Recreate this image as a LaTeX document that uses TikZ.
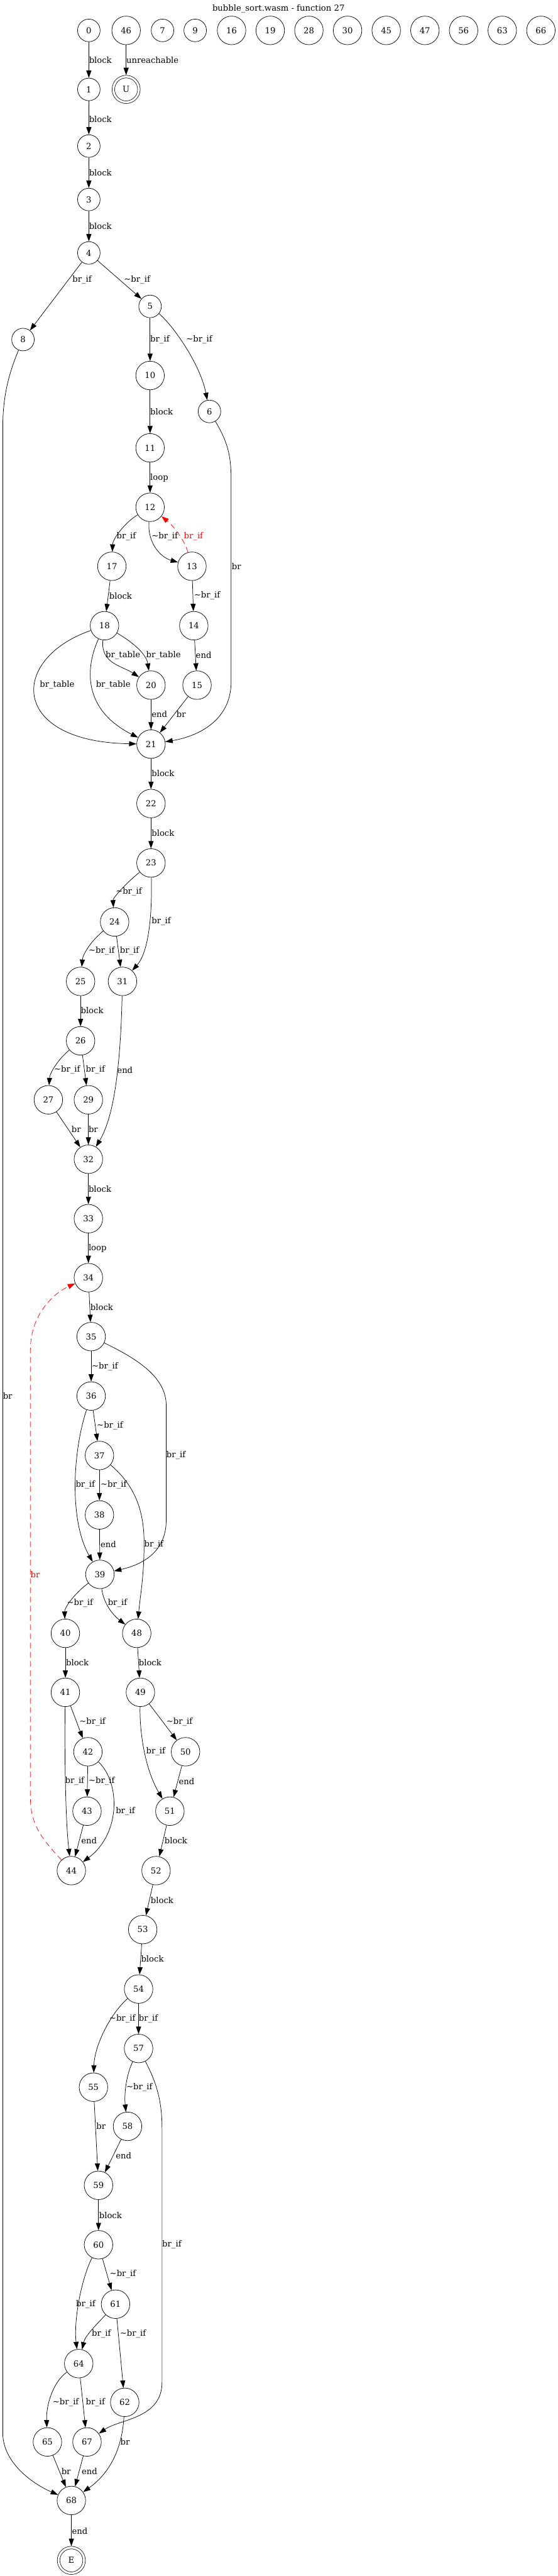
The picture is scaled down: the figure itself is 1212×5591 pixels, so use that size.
\documentclass[tikz,border=0pt]{standalone}
\usepackage{fontspec}
\newfontfamily\gvfont{DejaVu Serif}
\usetikzlibrary{arrows.meta}
\newcommand\gvbrif{br\_if}
\newcommand\gvnbrif{\textasciitilde br\_if}
\newcommand\gvbrtab{br\_table}

\begin{document}
\begin{tikzpicture}[x=0.5pt, y=-0.5pt,
  bb/.style={circle, draw, line width=0.5pt, minimum size=24.5pt, inner sep=0pt,
             font=\gvfont\fontsize{9}{11}\selectfont},
  wide/.style={minimum size=31pt},
  fin/.style={bb, double, double distance=2.25pt, minimum size=27.75pt, outer sep=1.6pt},
  edge/.style={line width=0.5pt, -{Triangle[length=8pt,width=5.5pt]}},
  back/.style={edge, red, dash pattern=on 6pt off 4pt},
  lbl/.style={anchor=west, inner sep=0pt, font=\gvfont\fontsize{9}{11}\selectfont}]
  \path[use as bounding box, fill=white] (0,0) rectangle (1212,5591);
  \node[lbl, anchor=center] (title) at (605,19) {bubble\_sort.wasm - function 27};

  % blocks
  \node[bb] (n0) at (193,66) {0};
  \node[bb,wide] (n46) at (274,66) {46};
  \foreach \k/\x in {7/353,9/424}
    \node[bb] (n\k) at (\x,66) {\k};
  \foreach \k/\x in {16/503,19/587,28/671,30/755,45/839,47/923,56/1007,63/1091,66/1175}
    \node[bb,wide] (n\k) at (\x,66) {\k};
  \node[bb] (n1) at (193,194) {1};
  \node[fin] (nU) at (274,194) {U};
  \node[bb] (n2) at (193,317) {2};
  \node[bb] (n3) at (193,433) {3};
  \node[bb] (n4) at (193,549) {4};
  \node[bb] (n5) at (326,665) {5};
  \node[bb] (n8) at (50,737) {8};
  \node[bb,wide] (n10) at (326,815) {10};
  \node[bb] (n6) at (455,893) {6};
  \node[bb,wide] (n11) at (326,972) {11};
  \node[bb,wide] (n12) at (326,1101) {12};
  \node[bb,wide] (n17) at (243,1229) {17};
  \node[bb,wide] (n13) at (417,1229) {13};
  \node[bb,wide] (n18) at (227,1358) {18};
  \node[bb,wide] (n14) at (421,1358) {14};
  \node[bb,wide] (n20) at (328,1487) {20};
  \node[bb,wide] (n15) at (428,1487) {15};
  \node[bb,wide] (n21) at (328,1615) {21};
  \node[bb,wide] (n22) at (328,1744) {22};
  \node[bb,wide] (n23) at (328,1873) {23};
  \node[bb,wide] (n24) at (249,2001) {24};
  \node[bb,wide] (n25) at (175,2130) {25};
  \node[bb,wide] (n31) at (266,2130) {31};
  \node[bb,wide] (n26) at (175,2259) {26};
  \node[bb,wide] (n27) at (105,2387) {27};
  \node[bb,wide] (n29) at (192,2387) {29};
  \node[bb,wide] (n32) at (192,2516) {32};
  \node[bb,wide] (n33) at (192,2645) {33};
  \node[bb,wide] (n34) at (192,2773) {34};
  \node[bb,wide] (n35) at (198,2901) {35};
  \node[bb,wide] (n36) at (198,3030) {36};
  \node[bb,wide] (n37) at (216,3159) {37};
  \node[bb,wide] (n38) at (216,3288) {38};
  \node[bb,wide] (n39) at (217,3417) {39};
  \node[bb,wide] (n40) at (142,3545) {40};
  \node[bb,wide] (n48) at (297,3545) {48};
  \node[bb,wide] (n41) at (142,3673) {41};
  \node[bb,wide] (n49) at (305,3673) {49};
  \node[bb,wide] (n42) at (191,3802) {42};
  \node[bb,wide] (n50) at (403,3802) {50};
  \node[bb,wide] (n43) at (189,3931) {43};
  \node[bb,wide] (n51) at (369,3931) {51};
  \node[bb,wide] (n44) at (155,4060) {44};
  \node[bb,wide] (n52) at (339,4060) {52};
  \node[bb,wide] (n53) at (310,4188) {53};
  \node[bb,wide] (n54) at (301,4317) {54};
  \node[bb,wide] (n57) at (301,4446) {57};
  \node[bb,wide] (n55) at (203,4530) {55};
  \node[bb,wide] (n58) at (277,4615) {58};
  \node[bb,wide] (n59) at (214,4743) {59};
  \node[bb,wide] (n60) at (214,4872) {60};
  \node[bb,wide] (n61) at (251,5001) {61};
  \node[bb,wide] (n64) at (171,5130) {64};
  \node[bb,wide] (n62) at (271,5214) {62};
  \node[bb,wide] (n65) at (103,5300) {65};
  \node[bb,wide] (n67) at (189,5300) {67};
  \node[bb,wide] (n68) at (155,5427) {68};
  \node[fin] (nE) at (155,5557) {E};

  % top part
  \draw[edge] (n0) -- (n1) node[lbl] at (193,130) {block};
  \draw[edge] (n46) -- (nU) node[lbl] at (274,130) {unreachable};
  \draw[edge] (n1) -- (n2) node[lbl] at (193,259) {block};
  \draw[edge] (n2) -- (n3) node[lbl] at (193,375) {block};
  \draw[edge] (n3) -- (n4) node[lbl] at (193,491) {block};
  \draw[edge] (n4) -- (n8) node[lbl] at (157,607) {\gvbrif};
  \draw[edge] (n4) -- (n5) node[lbl] at (269,607) {\gvnbrif};
  \draw[edge] (n5) -- (n10) node[lbl] at (326,737) {\gvbrif};
  \draw[edge] (n5) .. controls (375,705) and (435,790) .. (n6) node[lbl] at (404,737) {\gvnbrif};
  \draw[edge] (n10) -- (n11) node[lbl] at (326,893) {block};
  \draw[edge] (n11) -- (n12) node[lbl] at (326,1037) {loop};
  \draw[edge] (n8) .. controls (15,820) and (6,870) .. (6,930) -- (6,5280)
    .. controls (6,5350) and (80,5395) .. (n68) node[lbl] at (6,3030) {br};
  \draw[edge] (n6) .. controls (495,960) and (502,990) .. (502,1040) -- (502,1480)
    .. controls (502,1570) and (420,1600) .. (n21) node[lbl] at (503,1229) {br};

  % first loop
  \draw[edge] (n12) .. controls (270,1135) and (245,1170) .. (n17) node[lbl] at (253,1165) {\gvbrif};
  \draw[edge] (n12) .. controls (320,1180) and (350,1210) .. (n13) node[lbl] at (329,1165) {\gvnbrif};
  \draw[back] (n13) .. controls (400,1170) and (375,1140) .. (n12) node[lbl, red] at (399,1165) {\gvbrif};
  \draw[edge] (n17) -- (n18) node[lbl] at (237,1293) {block};
  \draw[edge] (n13) -- (n14) node[lbl] at (421,1293) {\gvnbrif};
  \draw[edge] (n18) .. controls (218,1440) and (265,1445) .. (n20) node[lbl] at (229,1422) {\gvbrtab};
  \draw[edge] (n18) .. controls (290,1395) and (318,1420) .. (n20) node[lbl] at (317,1422) {\gvbrtab};
  \draw[edge] (n14) -- (n15) node[lbl] at (425,1422) {end};
  \draw[edge] (n18) .. controls (20,1430) and (20,1610) .. (n21) node[lbl] at (86,1486) {\gvbrtab};
  \draw[edge] (n18) .. controls (185,1450) and (180,1540) .. (n21) node[lbl] at (208,1486) {\gvbrtab};
  \draw[edge] (n20) -- (n21) node[lbl] at (329,1550) {end};
  \draw[edge] (n15) -- (n21) node[lbl] at (383,1550) {br};
  \draw[edge] (n21) -- (n22) node[lbl] at (329,1679) {block};
  \draw[edge] (n22) -- (n23) node[lbl] at (329,1808) {block};
  \draw[edge] (n23) .. controls (270,1920) and (245,1950) .. (n24) node[lbl] at (251,1935) {\gvnbrif};
  \draw[edge] (n23) .. controls (331,2000) and (320,2070) .. (n31) node[lbl] at (329,2000) {\gvbrif};
  \draw[edge] (n24) .. controls (200,2040) and (180,2070) .. (n25) node[lbl] at (192,2064) {\gvnbrif};
  \draw[edge] (n24) -- (n31) node[lbl] at (260,2064) {\gvbrif};
  \draw[edge] (n25) -- (n26) node[lbl] at (175,2193) {block};
  \draw[edge] (n26) .. controls (125,2300) and (108,2330) .. (n27) node[lbl] at (117,2322) {\gvnbrif};
  \draw[edge] (n26) -- (n29) node[lbl] at (186,2322) {\gvbrif};
  \draw[edge] (n31) .. controls (262,2300) and (250,2420) .. (n32) node[lbl] at (254,2322) {end};
  \draw[edge] (n27) -- (n32) node[lbl] at (155,2451) {br};
  \draw[edge] (n29) -- (n32) node[lbl] at (192,2451) {br};
  \draw[edge] (n32) -- (n33) node[lbl] at (192,2580) {block};
  \draw[edge] (n33) -- (n34) node[lbl] at (192,2709) {loop};

  % second loop
  \draw[edge] (n34) -- (n35) node[lbl] at (196,2837) {block};
  \draw[back] (n44) .. controls (90,3990) and (66,3960) .. (66,3900) -- (66,2930)
    .. controls (66,2850) and (120,2805) .. (n34) node[lbl, red] at (66,3417) {br};
  \draw[edge] (n35) -- (n36) node[lbl] at (199,2966) {\gvnbrif};
  \draw[edge] (n35) .. controls (300,2950) and (361,2990) .. (361,3050) -- (361,3300)
    .. controls (361,3380) and (290,3400) .. (n39) node[lbl] at (361,3159) {\gvbrif};
  \draw[edge] (n36) -- (n37) node[lbl] at (210,3094) {\gvnbrif};
  \draw[edge] (n36) .. controls (158,3150) and (150,3300) .. (n39) node[lbl] at (164,3223) {\gvbrif};
  \draw[edge] (n37) -- (n38) node[lbl] at (218,3223) {\gvnbrif};
  \draw[edge] (n37) .. controls (300,3230) and (313,3290) .. (313,3350)
    .. controls (313,3420) and (305,3460) .. (n48) node[lbl] at (313,3352) {\gvbrif};
  \draw[edge] (n38) -- (n39) node[lbl] at (218,3352) {end};
  \draw[edge] (n39) .. controls (160,3460) and (140,3490) .. (n40) node[lbl] at (145,3480) {\gvnbrif};
  \draw[edge] (n39) .. controls (225,3480) and (245,3505) .. (n48) node[lbl] at (234,3480) {\gvbrif};
  \draw[edge] (n40) -- (n41) node[lbl] at (143,3609) {block};
  \draw[edge] (n48) -- (n49) node[lbl] at (301,3609) {block};
  \draw[edge] (n41) -- (n42) node[lbl] at (172,3737) {\gvnbrif};
  \draw[edge] (n49) -- (n50) node[lbl] at (361,3737) {\gvnbrif};
  \draw[edge] (n49) .. controls (303,3760) and (315,3840) .. (n51) node[lbl] at (317,3802) {\gvbrif};
  \draw[edge] (n41) .. controls (140,3800) and (142,3950) .. (n44) node[lbl] at (141,3866) {\gvbrif};
  \draw[edge] (n42) -- (n43) node[lbl] at (192,3866) {\gvnbrif};
  \draw[edge] (n50) -- (n51) node[lbl] at (388,3866) {end};
  \draw[edge] (n42) .. controls (262,3870) and (262,3980) .. (n44) node[lbl] at (251,3931) {\gvbrif};
  \draw[edge] (n43) -- (n44) node[lbl] at (176,3995) {end};
  \draw[edge] (n51) -- (n52) node[lbl] at (357,3995) {block};
  \draw[edge] (n52) -- (n53) node[lbl] at (327,4124) {block};
  \draw[edge] (n53) -- (n54) node[lbl] at (306,4252) {block};

  % tail
  \draw[edge] (n54) .. controls (240,4370) and (205,4440) .. (n55) node[lbl] at (237,4381) {\gvnbrif};
  \draw[edge] (n54) -- (n57) node[lbl] at (301,4381) {\gvbrif};
  \draw[edge] (n57) .. controls (272,4510) and (270,4550) .. (n58) node[lbl] at (274,4530) {\gvnbrif};
  \draw[edge] (n57) .. controls (340,4520) and (352,4560) .. (352,4620) -- (352,5170)
    .. controls (352,5250) and (260,5250) .. (n67) node[lbl] at (352,4872) {\gvbrif};
  \draw[edge] (n55) -- (n59) node[lbl] at (209,4615) {br};
  \draw[edge] (n58) -- (n59) node[lbl] at (251,4679) {end};
  \draw[edge] (n59) -- (n60) node[lbl] at (215,4808) {block};
  \draw[edge] (n60) -- (n61) node[lbl] at (238,4936) {\gvnbrif};
  \draw[edge] (n60) .. controls (175,4950) and (160,5040) .. (n64) node[lbl] at (165,5001) {\gvbrif};
  \draw[edge] (n61) .. controls (205,5050) and (185,5070) .. (n64) node[lbl] at (199,5065) {\gvbrif};
  \draw[edge] (n61) -- (n62) node[lbl] at (260,5065) {\gvnbrif};
  \draw[edge] (n64) .. controls (115,5170) and (100,5220) .. (n65) node[lbl] at (114,5214) {\gvnbrif};
  \draw[edge] (n64) -- (n67) node[lbl] at (186,5214) {\gvbrif};
  \draw[edge] (n62) .. controls (265,5320) and (235,5370) .. (n68) node[lbl] at (261,5300) {br};
  \draw[edge] (n65) -- (n68) node[lbl] at (133,5364) {br};
  \draw[edge] (n67) -- (n68) node[lbl] at (177,5364) {end};
  \draw[edge] (n68) -- (nE) node[lbl] at (156,5493) {end};
\end{tikzpicture}
\end{document}
